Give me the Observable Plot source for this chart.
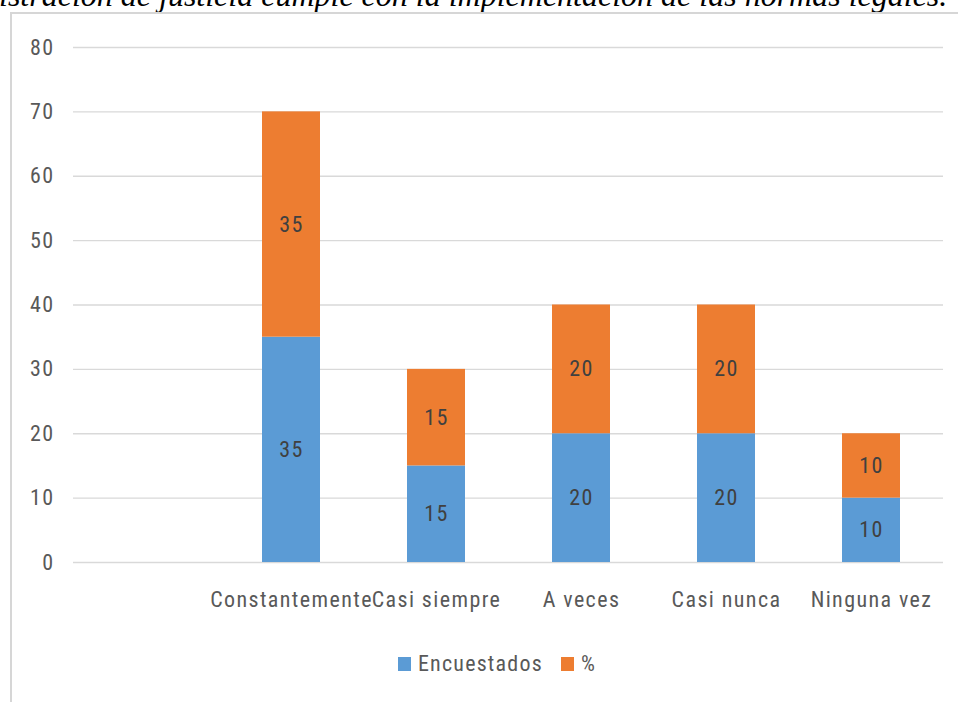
<!DOCTYPE html>
<html>
<head>
<meta charset="utf-8">
<script src="https://cdn.jsdelivr.net/npm/d3@7"></script>
<script src="https://cdn.jsdelivr.net/npm/@observablehq/plot@0.6"></script>
<style>
  html, body { margin: 0; padding: 0; background: #fff; }
  #wrap { position: relative; width: 958px; height: 702px; overflow: hidden; background: #fff; }
  #title { position: absolute; left: -1px; top: -21px; white-space: nowrap;
    font-family: "Liberation Serif", "Times New Roman", serif; font-style: italic;
    font-size: 32px; line-height: 32px; color: #000; }
  #frame { position: absolute; left: 10px; top: 12px; width: 980px; height: 720px;
    border-top: 2px solid #d6d6d6; border-left: 2px solid #d6d6d6; }
  #chart { position: absolute; left: 0; top: 0; }
  #legend { position: absolute; top: 651px; left: 0; width: 958px; display: flex; justify-content: center;
    font-family: "Liberation Sans Narrow", "Roboto Condensed", "DejaVu Sans Condensed", sans-serif;
    font-size: 22px; letter-spacing: 1.2px; color: #595959; gap: 18px; padding-left: 36px; box-sizing: border-box; }
  .item { display: flex; align-items: center; gap: 7px; }
  .sw { width: 13px; height: 14px; display: inline-block; }
</style>
</head>
<body>
<div id="wrap">
  <div id="title">istración de justicia cumple con la implementación de las normas legales.</div>
  <div id="frame"></div>
  <div id="chart"></div>
  <div id="legend"></div>
</div>
<script>
const categories = ["", "Constantemente", "Casi siempre", "A veces", "Casi nunca", "Ninguna vez"];
const seriesNames = ["Encuestados", "%"];
const encuestados = [null, 35, 15, 20, 20, 10];
const porcentaje = [null, 35, 15, 20, 20, 10];
const yTicks = [0, 10, 20, 30, 40, 50, 60, 70, 80];
const colors = ["#5b9bd5", "#ed7d31"];

const rows = [];
categories.forEach((c, i) => {
  if (encuestados[i] != null) rows.push({cat: c, series: seriesNames[0], value: encuestados[i]});
  if (porcentaje[i] != null) rows.push({cat: c, series: seriesNames[1], value: porcentaje[i]});
});

const font = '"Liberation Sans Narrow", "Roboto Condensed", "DejaVu Sans Condensed", sans-serif';

const chart = Plot.plot({
  width: 958,
  height: 620,
  marginLeft: 73,
  marginRight: 15,
  marginTop: 47,
  marginBottom: 58,
  style: { fontFamily: font, fontSize: "22px", letterSpacing: "1.4px", color: "#595959", background: "transparent" },
  x: { domain: categories, paddingInner: 0.6, paddingOuter: 0.3, label: null, tickSize: 0, tickPadding: 29 },
  y: { domain: [0, 80], ticks: yTicks, label: null, tickSize: 0, tickPadding: 19 },
  color: { domain: seriesNames, range: colors },
  marks: [
    Plot.ruleY(yTicks, { stroke: "#d9d9d9", strokeWidth: 1.3 }),
    Plot.barY(rows, { x: "cat", y: "value", fill: "series", order: seriesNames }),
    Plot.text(rows, Plot.stackY({ x: "cat", y: "value", z: "series", order: seriesNames, text: d => String(d.value),
      fill: "#404040", fontSize: 22 }))
  ]
});
document.getElementById("chart").appendChild(chart);

const legend = document.getElementById("legend");
seriesNames.forEach((s, i) => {
  const it = document.createElement("div");
  it.className = "item";
  const sw = document.createElement("span");
  sw.className = "sw";
  sw.style.background = colors[i];
  const t = document.createElement("span");
  t.textContent = s;
  it.appendChild(sw); it.appendChild(t);
  legend.appendChild(it);
});
</script>
</body>
</html>
